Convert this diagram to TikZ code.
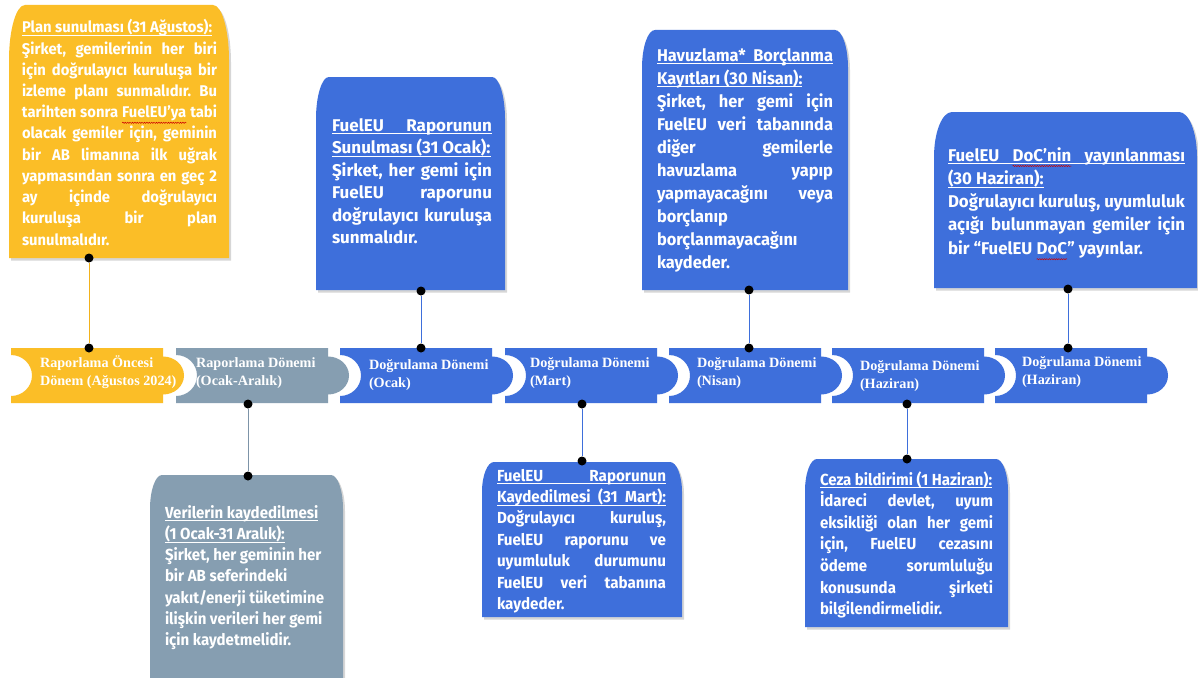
\documentclass[tikz,border=0pt]{standalone}
\usepackage{fontspec}
\setmainfont{Fira Sans}
\newfontfamily\firaA{Fira Sans}[FakeStretch=0.955]
\newfontfamily\firaB{Fira Sans}[FakeStretch=1.0]
\newfontfamily\firaC{Fira Sans}[FakeStretch=0.965]
\newfontfamily\firaD{Fira Sans}[FakeStretch=0.99]
\newfontfamily\firaE{Fira Sans}[FakeStretch=0.94]
\newfontfamily\firaF{Fira Sans}[FakeStretch=0.95]
\newfontfamily\tnr{Liberation Serif}
\frenchspacing
\usetikzlibrary{decorations.pathmorphing}
\definecolor{cYel}{HTML}{FBBE27}
\definecolor{cGray}{HTML}{869EB1}
\definecolor{cBlue}{HTML}{3E6FDB}
\definecolor{cYelLine}{HTML}{F2B21C}
\definecolor{cGrayLine}{HTML}{7D94A8}
\newsavebox\ulbox
\newcommand\J[1]{\hbox to \hsize{#1}}
\newcommand\N[1]{\hbox{#1}}
\newcommand\JU[1]{\hbox to \hsize{\rlap{\rule[-3pt]{\hsize}{0.8pt}}#1}}
\newcommand\NU[1]{\sbox\ulbox{#1}\hbox{\rlap{\rule[-3pt]{\wd\ulbox}{0.8pt}}\usebox\ulbox}}
\newcommand\sq[1]{\tikz[baseline=(sqw.base)]{\node[inner sep=0pt,outer sep=0pt,text=white] (sqw) {#1};
  \draw[red!80!black,line width=0.5pt,decorate,decoration={snake,amplitude=0.6pt,segment length=2.4pt}]
  ([yshift=-5pt]sqw.base west) -- ([yshift=-5pt]sqw.base east);}}
% callout shape: x1 y1 x2 y2 rx ry
\newcommand\cbpath[6]{(#1,#4) -- (#1,{#2+#6}) .. controls (#1,{#2+0.448*#6}) and ({#1+0.448*#5},#2) .. ({#1+#5},#2)
  -- ({#3-#5},#2) .. controls ({#3-0.448*#5},#2) and (#3,{#2+0.448*#6}) .. (#3,{#2+#6}) -- (#3,#4) -- cycle}
\newcommand\callbox[7]{%
  \begin{scope}[xshift=2pt,yshift=-2.5pt]\fill[black,opacity=0.16] \cbpath{#1}{#2}{#3}{#4}{#5}{#6};\end{scope}
  \fill[#7] \cbpath{#1}{#2}{#3}{#4}{#5}{#6};}
% timeline segment: left x, colour
\newcommand\seg[2]{%
  \fill[#2] (#1,348) -- ({#1+152},348) -- ({#1+152},356.5)
   .. controls ({#1+163.6},356.5) and ({#1+173},365) .. ({#1+173},375.5)
   .. controls ({#1+173},386) and ({#1+163.6},394.5) .. ({#1+152},394.5)
   -- ({#1+152},403) -- (#1,403) -- (#1,396)
   .. controls ({#1+11.6},396) and ({#1+21},386.8) .. ({#1+21},375.5)
   .. controls ({#1+21},364.2) and ({#1+11.6},355) .. (#1,355) -- cycle;}
\newcommand\tlab[2]{\vtop{\baselineskip=18pt\hbox{#1}\hbox{#2}}}
\tikzset{
  callt/.style={inner sep=0pt,outer sep=0pt,text=white,anchor=base west},
  tltext/.style={inner sep=0pt,outer sep=0pt,text=white,anchor=base west,
     font=\tnr\bfseries\fontsize{14.2}{18}\selectfont},
  dot/.style={circle,fill=black,inner sep=0pt,minimum size=9pt},
  conn/.style={line width=1pt}
}
\begin{document}
\begin{tikzpicture}[x=1pt,y=-1pt]
\fill[white] (0,0) rectangle (1198,677);
\useasboundingbox (0,0) rectangle (1198,677);

% ---------- timeline ----------
\seg{11}{cYel}
\seg{176}{cGray}
\seg{340}{cBlue}
\seg{505}{cBlue}
\seg{669}{cBlue}
\seg{832}{cBlue}
\seg{995}{cBlue}

\node[tltext] (s1) at (40,367) {\tlab{Raporlama Öncesi}{Dönem (Ağustos 2024)}};
\node[tltext] (s2) at (196,367) {\tlab{Raporlama Dönemi}{(Ocak-Aralık)}};
\node[tltext] (s3) at (369,369) {\tlab{Doğrulama Dönemi}{(Ocak)}};
\node[tltext] (s4) at (530,367) {\tlab{Doğrulama Dönemi}{(Mart)}};
\node[tltext] (s5) at (697,367) {\tlab{Doğrulama Dönemi}{(Nisan)}};
\node[tltext] (s6) at (860,370) {\tlab{Doğrulama Dönemi}{(Haziran)}};
\node[tltext] (s7) at (1022,366) {\tlab{Doğrulama Dönemi}{(Haziran)}};

% ---------- callout boxes ----------
\callbox{9}{5}{229}{258}{16}{55}{cYel}
\callbox{316}{77}{505}{290}{13}{42}{cBlue}
\callbox{642}{30}{848}{290}{13}{38}{cBlue}
\callbox{934}{112}{1197}{288}{18}{45}{cBlue}
\callbox{150}{475}{343}{690}{12}{34}{cGray}
\callbox{482}{462}{682}{617}{12}{30}{cBlue}
\callbox{805}{459}{1008}{627}{12}{32}{cBlue}

% A
\node[callt,font=\firaA\bfseries\fontsize{15.5}{21}\selectfont] (tA) at (22,33) {\vtop{\hsize=195pt\baselineskip=21.2pt\lineskiplimit=-50pt\lineskip=0pt
  \NU{Plan sunulması (31 Ağustos):}
  \J{Şirket, gemilerinin her biri}
  \J{için doğrulayıcı kuruluşa bir}
  \J{izleme planı sunmalıdır. Bu}
  \J{tarihten sonra \sq{FuelEU’ya} tabi}
  \J{olacak gemiler için, geminin}
  \J{bir AB limanına ilk uğrak}
  \J{yapmasından sonra en geç 2}
  \J{ay içinde doğrulayıcı}
  \J{kuruluşa bir plan}
  \N{sunulmalıdır.}}};
% B
\node[callt,font=\firaB\bfseries\fontsize{17}{22.5}\selectfont] (tB) at (332,131) {\vtop{\hsize=160pt\baselineskip=22.5pt\lineskiplimit=-50pt\lineskip=0pt
  \JU{FuelEU Raporunun}
  \NU{Sunulması (31 Ocak):}
  \J{Şirket, her gemi için}
  \J{FuelEU raporunu}
  \J{doğrulayıcı kuruluşa}
  \N{sunmalıdır.}}};
% C
\node[callt,font=\firaC\bfseries\fontsize{17}{23}\selectfont] (tC) at (657,61) {\vtop{\hsize=176pt\baselineskip=23pt\lineskiplimit=-50pt\lineskip=0pt
  \JU{Havuzlama* Borçlanma}
  \NU{Kayıtları (30 Nisan):}
  \J{Şirket, her gemi için}
  \J{FuelEU veri tabanında}
  \J{diğer gemilerle}
  \J{havuzlama yapıp}
  \J{yapmayacağını veya}
  \N{borçlanıp}
  \N{borçlanmayacağını}
  \N{kaydeder.}}};
% D
\node[callt,font=\firaD\bfseries\fontsize{17}{23.3}\selectfont] (tD) at (948,161) {\vtop{\hsize=237pt\baselineskip=23.3pt\lineskiplimit=-50pt\lineskip=0pt
  \JU{FuelEU \sq{DoC’nin} yayınlanması}
  \NU{(30 Haziran):}
  \J{Doğrulayıcı kuruluş, uyumluluk}
  \J{açığı bulunmayan gemiler için}
  \N{bir “FuelEU \sq{DoC}” yayınlar.}}};
% E
\node[callt,font=\firaE\bfseries\fontsize{16}{21.3}\selectfont] (tE) at (165,518) {\vtop{\hsize=175pt\baselineskip=21.3pt\lineskiplimit=-50pt\lineskip=0pt
  \NU{Verilerin kaydedilmesi}
  \NU{(1 Ocak-31 Aralık):}
  \N{Şirket, her geminin her}
  \N{bir AB seferindeki}
  \N{yakıt/enerji tüketimine}
  \N{ilişkin verileri her gemi}
  \N{için kaydetmelidir.}}};
% F
\node[callt,font=\firaF\bfseries\fontsize{16}{21.4}\selectfont] (tF) at (497,481) {\vtop{\hsize=169pt\baselineskip=21.4pt\lineskiplimit=-50pt\lineskip=0pt
  \JU{FuelEU Raporunun}
  \JU{Kaydedilmesi (31 Mart):}
  \J{Doğrulayıcı kuruluş,}
  \J{FuelEU raporunu ve}
  \J{uyumluluk durumunu}
  \J{FuelEU veri tabanına}
  \N{kaydeder.}}};
% G
\node[callt,font=\firaE\bfseries\fontsize{16}{21.6}\selectfont] (tG) at (820,485) {\vtop{\hsize=173pt\baselineskip=21.6pt\lineskiplimit=-50pt\lineskip=0pt
  \NU{Ceza bildirimi (1 Haziran):}
  \J{İdareci devlet, uyum}
  \J{eksikliği olan her gemi}
  \J{için, FuelEU cezasını}
  \J{ödeme sorumluluğu}
  \J{konusunda şirketi}
  \N{bilgilendirmelidir.}}};

% ---------- dots and connectors ----------
\node[dot] (dA1) at (89,258) {};
\node[dot] (dA2) at (89,348) {};
\node[dot] (dB1) at (421,291) {};
\node[dot] (dB2) at (421,348) {};
\node[dot] (dC1) at (749,290) {};
\node[dot] (dC2) at (749,348) {};
\node[dot] (dD1) at (1068,289) {};
\node[dot] (dD2) at (1068,348) {};
\node[dot] (dE1) at (248,404) {};
\node[dot] (dE2) at (248,476) {};
\node[dot] (dF1) at (582,404) {};
\node[dot] (dF2) at (582,461) {};
\node[dot] (dG1) at (907,404) {};
\node[dot] (dG2) at (907,459) {};

\draw[conn,cYelLine] (dA1) -- (dA2);
\draw[conn,cBlue] (dB1) -- (dB2);
\draw[conn,cBlue] (dC1) -- (dC2);
\draw[conn,cBlue] (dD1) -- (dD2);
\draw[conn,cGrayLine] (dE1) -- (dE2);
\draw[conn,cBlue] (dF1) -- (dF2);
\draw[conn,cBlue] (dG1) -- (dG2);
\end{tikzpicture}
\end{document}
